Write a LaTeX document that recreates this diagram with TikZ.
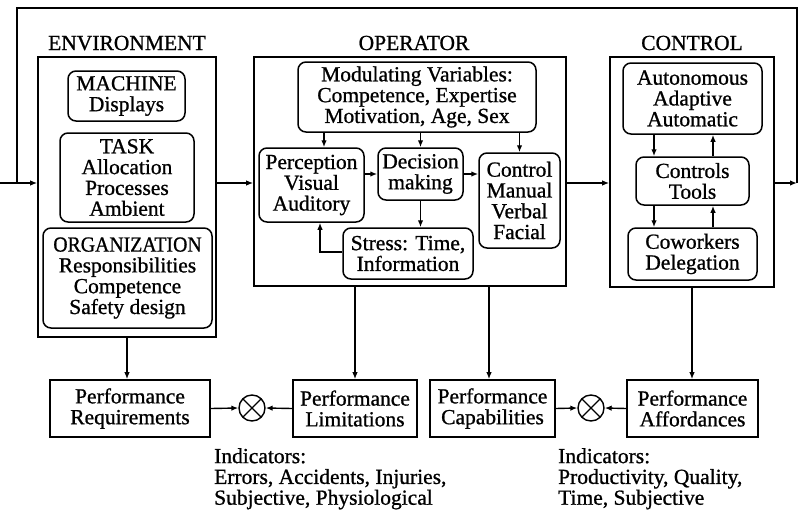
\documentclass[tikz,border=0pt]{standalone}
\usepackage{fontspec}
\setmainfont{Liberation Serif}
\newfontfamily\diagfam{Liberation Serif}[FakeBold=0.9]
\usetikzlibrary{arrows.meta,calc}
\newcommand\mydiagfont{\diagfam\fontsize{21.5pt}{20.8pt}\selectfont}
\begin{document}
\begin{tikzpicture}[x=1pt,y=-1pt,
  every node/.style={font=\mydiagfont, inner sep=0pt},
  outerbox/.style={draw, line width=1.6pt, rectangle},
  rbox/.style={draw, line width=1.5pt, rounded corners=8pt, align=center},
  pbox/.style={draw, line width=1.6pt, rectangle, align=center},
  title/.style={anchor=base},
  arr/.style={line width=1.4pt, -{Latex[length=7pt,width=5.5pt]}},
  ln/.style={line width=1.4pt},
  xcirc/.style={draw, circle, line width=1.4pt, minimum size=26pt,
    path picture={\draw[line width=1.2pt] (path picture bounding box.south west) -- (path picture bounding box.north east)
      (path picture bounding box.north west) -- (path picture bounding box.south east);}},
  ind/.style={anchor=north west, align=left}
]
\useasboundingbox[fill=white] (0,0) rectangle (800,514);

% titles
\node[title] (tEnv) at (127,50) {ENVIRONMENT};
\node[title] (tOp) at (414,50) {OPERATOR};
\node[title] (tCtrl) at (692,50) {CONTROL};

% outer boxes
\node[outerbox, minimum width=178pt, minimum height=280pt] (env) at (127,197) {};
\node[outerbox, minimum width=312pt, minimum height=229pt] (op) at (410,171.5) {};
\node[outerbox, minimum width=164pt, minimum height=230pt] (ctrl) at (692,172) {};

% environment
\node[rbox, minimum width=117pt, minimum height=50pt] (mach) at (126.5,96) {MACHINE\\Displays};
\node[rbox, minimum width=134pt, minimum height=89pt] (task) at (127,177.5) {TASK\\Allocation\\Processes\\Ambient};
\node[rbox, minimum width=169pt, minimum height=100pt] (org) at (127.5,278) {\scalebox{0.92}[1]{ORGANIZATION}\\Responsibilities\\Competence\\Safety design};

% operator
\node[rbox, minimum width=238pt, minimum height=70pt] (mod) at (417,97) {Modulating Variables:\\Competence, Expertise\\Motivation, Age, Sex};
\node[rbox, minimum width=105pt, minimum height=74pt] (perc) at (311.5,185) {Perception\\Visual\\Auditory};
\node[rbox, minimum width=85pt, minimum height=52pt] (dec) at (420.5,174) {Decision\\making};
\node[rbox, minimum width=81pt, minimum height=95pt] (ctl) at (519.5,200.5) {Control\\Manual\\Verbal\\Facial};
\node[rbox, minimum width=130pt, minimum height=51pt] (stress) at (408,253.5) {Stress: Time,\\Information};

% control
\node[rbox, minimum width=139pt, minimum height=71pt] (auto) at (692.5,98.5) {Autonomous\\Adaptive\\Automatic};
\node[rbox, minimum width=113pt, minimum height=48pt] (tools) at (692.5,181) {Controls\\Tools};
\node[rbox, minimum width=129pt, minimum height=52pt] (cow) at (692.5,254) {Coworkers\\Delegation};

% performance boxes
\node[pbox, minimum width=160pt, minimum height=57pt] (req) at (130,408.5) {Performance\\Requirements};
\node[pbox, minimum width=124pt, minimum height=57pt] (lim) at (355,408.5) {Performance\\Limitations};
\node[pbox, minimum width=125pt, minimum height=57pt] (cap) at (492.5,408.5) {Performance\\Capabilities};
\node[pbox, minimum width=131pt, minimum height=57pt] (aff) at (692.5,408.5) {Performance\\Affordances};
\node[xcirc] (x1) at (252,408) {};
\node[xcirc] (x2) at (591,408) {};

% indicators
\node[ind] (ind1) at (214,448) {Indicators:\\Errors, Accidents, Injuries,\\Subjective, Physiological};
\node[ind] (ind2) at (558,448) {Indicators:\\Productivity, Quality,\\Time, Subjective};

% coordinates for the loop
\coordinate (inL) at (0,183);
\coordinate (outR) at (797,183);
\coordinate (topR) at (797,8);
\coordinate (topL) at (17,8);
\coordinate (joinL) at (17,183);

% loop and main flow
\draw[arr] (inL) -- (env.west |- inL);
\draw[ln] (outR) -- (topR) -- (topL) -- (joinL);
\draw[arr] (env.east |- inL) -- (op.west |- inL);
\draw[arr] (op.east |- inL) -- (ctrl.west |- inL);
\draw[arr] (ctrl.east |- inL) -- (outR);

% operator internals
\draw[arr] ([xshift=12.5pt]perc.north |- mod.south) -- ([xshift=12.5pt]perc.north);
\draw[arr] (dec.north |- mod.south) -- (dec.north);
\draw[arr] (ctl.north |- mod.south) -- (ctl.north);
\draw[arr] (perc.east |- dec.west) -- (dec.west);
\draw[arr] (dec.east) -- (ctl.west |- dec.east);
\draw[arr] (dec.south) -- (dec.south |- stress.north);
\draw[arr] ([yshift=1.5pt]stress.west) -| ([xshift=8.5pt]perc.south);

% control internals
\draw[arr] ([xshift=-38.5pt]auto.south) -- ([xshift=-38.5pt]auto.south |- tools.north);
\draw[arr] ([xshift=20.5pt]auto.south |- tools.north) -- ([xshift=20.5pt]auto.south);
\draw[arr] ([xshift=-38.5pt]tools.south) -- ([xshift=-38.5pt]tools.south |- cow.north);
\draw[arr] ([xshift=20.5pt]tools.south |- cow.north) -- ([xshift=20.5pt]tools.south);

% down to performance
\draw[arr] (env.south) -- (env.south |- req.north);
\draw[arr] (lim.north |- op.south) -- (lim.north);
\draw[arr] ([xshift=-3.5pt]cap.north |- op.south) -- ([xshift=-3.5pt]cap.north);
\draw[arr] (ctrl.south) -- (ctrl.south |- aff.north);

% comparators
\draw[arr] (req.east) -- (x1.west);
\draw[arr] (lim.west) -- (x1.east);
\draw[arr] (cap.east) -- (x2.west);
\draw[arr] (aff.west) -- (x2.east);
\end{tikzpicture}
\end{document}
